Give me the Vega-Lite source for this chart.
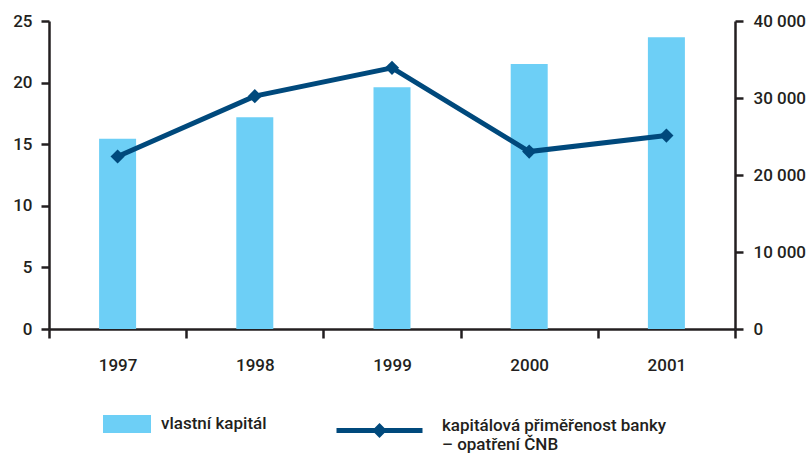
{
  "$schema": "https://vega.github.io/schema/vega-lite/v6.json",
  "autosize": "none",
  "padding": {"left": 49, "top": 21, "right": 77, "bottom": 125},
  "width": 686,
  "height": 308,
  "background": "white",
  "config": {
    "view": {"stroke": null},
    "font": "Roboto",
    "axis": {
      "labelFont": "Roboto",
      "labelFontSize": 17,
      "labelFontWeight": 500,
      "labelColor": "#231f20",
      "domainColor": "#231f20",
      "domainWidth": 2.5,
      "tickColor": "#231f20",
      "tickWidth": 2.5,
      "grid": false,
      "title": null
    },
    "legend": {
      "labelFont": "Roboto",
      "labelFontSize": 17,
      "labelFontWeight": 500,
      "labelColor": "#231f20",
      "padding": 0,
      "title": null
    }
  },
  "data": {
    "values": [
      {"rok": "1997", "vlastni_kapital": 24700, "primerenost": 14.0},
      {"rok": "1998", "vlastni_kapital": 27500, "primerenost": 18.9},
      {"rok": "1999", "vlastni_kapital": 31400, "primerenost": 21.2},
      {"rok": "2000", "vlastni_kapital": 34400, "primerenost": 14.4},
      {"rok": "2001", "vlastni_kapital": 37900, "primerenost": 15.7}
    ]
  },
  "encoding": {
    "x": {
      "field": "rok",
      "type": "nominal",
      "scale": {"paddingInner": 0, "paddingOuter": 0},
      "axis": {
        "labelAngle": 0,
        "tickBand": "extent",
        "tickSize": 9,
        "labelPadding": 19,
        "labelBaseline": "top",
        "domainWidth": 2.5,
        "tickWidth": 2.5,
        "domainColor": "#231f20",
        "tickColor": "#231f20"
      }
    }
  },
  "layer": [
    {
      "mark": {"type": "bar", "size": 37},
      "encoding": {
        "y": {
          "field": "vlastni_kapital",
          "type": "quantitative",
          "scale": {"domain": [0, 40000], "nice": false},
          "axis": {
            "orient": "right",
            "values": [0, 10000, 20000, 30000, 40000],
            "tickSize": 8,
            "labelPadding": 10,
            "domainWidth": 2.5,
            "tickWidth": 2.5,
            "domainColor": "#231f20",
            "tickColor": "#231f20",
            "labelExpr": "replace(format(datum.value, ','), ',', ' ')"
          }
        },
        "fill": {
          "datum": "vlastní kapitál",
          "scale": {"range": ["#6dcff6"]},
          "legend": {
            "orient": "none",
            "legendX": 54,
            "legendY": 379,
            "symbolType": "M-1,-0.375H1V0.375H-1Z",
            "symbolSize": 2304,
            "symbolStrokeWidth": 0,
            "symbolOpacity": 1,
            "labelOffset": 10
          }
        }
      }
    },
    {
      "mark": {"type": "line", "strokeWidth": 5, "color": "#00497c"},
      "encoding": {
        "y": {
          "field": "primerenost",
          "type": "quantitative",
          "scale": {"domain": [0, 25], "nice": false},
          "axis": {
            "orient": "left",
            "values": [0, 5, 10, 15, 20, 25],
            "tickSize": 8,
            "labelPadding": 9,
            "domainWidth": 2.5,
            "tickWidth": 2.5,
            "domainColor": "#231f20",
            "tickColor": "#231f20"
          }
        },
        "stroke": {
          "datum": "kapitálová přiměřenost banky",
          "scale": {"range": ["#00497c"]},
          "legend": {
            "orient": "none",
            "legendX": 285,
            "legendY": 364,
            "symbolType": "M-1,0H1M0,-0.09L0.09,0L0,0.09L-0.09,0Z",
            "symbolSize": 7396,
            "symbolStrokeWidth": 5,
            "symbolFillColor": "#00497c",
            "labelOffset": 17,
            "labelLimit": 400,
            "labelBaseline": "alphabetic",
            "labelLineHeight": 22,
            "labelExpr": "['kapitálová přiměřenost banky', '– opatření ČNB']"
          }
        }
      }
    },
    {
      "mark": {"type": "point", "shape": "diamond", "filled": true, "size": 200, "color": "#00497c", "opacity": 1},
      "encoding": {
        "y": {"field": "primerenost", "type": "quantitative", "scale": {"domain": [0, 25], "nice": false}, "axis": null}
      }
    }
  ],
  "resolve": {"scale": {"y": "independent"}}
}
